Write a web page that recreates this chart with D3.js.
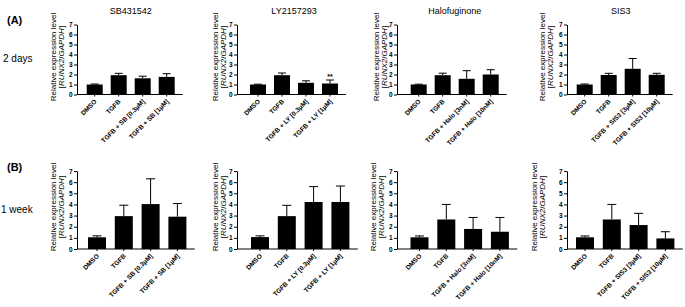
<!DOCTYPE html>
<html><head><meta charset="utf-8">
<script src="https://cdn.jsdelivr.net/npm/d3@7"></script>
<style>
body{margin:0;background:#fff;}
svg{display:block;font-family:Arial,"Liberation Sans",sans-serif;}
</style></head>
<body><svg id="c" width="685" height="307"></svg>
<script>
// ---- data ----
const drugs = ["SB431542", "LY2157293", "Halofuginone", "SIS3"];
const catSB = ["DMSO", "TGFB", "TGFB + SB [0.3µM]", "TGFB + SB [1µM]"];
const catLY = ["DMSO", "TGFB", "TGFB + LY [0.3µM]", "TGFB + LY [1µM]"];
const catHalo = ["DMSO", "TGFB", "TGFB + Halo [3nM]", "TGFB + Halo [10nM]"];
const catSIS3 = ["DMSO", "TGFB", "TGFB + SIS3 [3µM]", "TGFB + SIS3 [10µM]"];
const categories = [catSB, catLY, catHalo, catSIS3];
// 2 days
const mean2d = [[1.0, 1.93, 1.62, 1.76], [1.0, 1.93, 1.17, 1.1], [1.0, 1.93, 1.57, 2.0], [1.0, 1.95, 2.57, 1.97]];
const err2d  = [[0.05, 0.19, 0.21, 0.32], [0.03, 0.22, 0.2, 0.35], [0.03, 0.2, 0.81, 0.48], [0.05, 0.17, 1.03, 0.15]];
// 1 week
const mean1w = [[1.05, 2.95, 4.03, 2.9], [1.07, 2.95, 4.22, 4.22], [1.05, 2.65, 1.8, 1.55], [1.05, 2.65, 2.15, 0.95]];
const err1w  = [[0.13, 0.98, 2.27, 1.18], [0.11, 0.97, 1.38, 1.43], [0.12, 1.35, 1.03, 1.28], [0.12, 1.35, 1.05, 0.6]];
const yTicks = [0, 1, 2, 3, 4, 5, 6, 7];
const signif = [{row: 0, panel: 1, bar: 3, text: "**"}];
const rowLabels = ["(A)", "(B)"];
const rowTimes = ["2 days", "1 week"];

// ---- layout ----
const svg = d3.select("#c");
const FONT = "Arial, 'Liberation Sans', sans-serif";
const panelLeft = [77, 237, 397, 567];
const rows = [
  {y0: 94.5, yTop: 24.5, step: 24, barW: 16, first: [17.7, 21, 21.7, 17.7], lab: [-24, -22, -21, -25.5], mean: mean2d, err: err2d, labY: 57},
  {y0: 249, yTop: 171, step: 26.8, barW: 18, first: [20, 23, 22.5, 18], lab: [-24, -22.5, -24.5, -33.5], mean: mean1w, err: err1w, labY: 207}
];

rows.forEach((R, ri) => {
  const y = d3.scaleLinear().domain([0, 7]).range([R.y0, R.yTop]);
  drugs.forEach((drug, pi) => {
    const x0 = panelLeft[pi];
    const start = x0 + R.first[pi] - R.step / 2;
    const pin = 1 - R.barW / R.step;
    const x = d3.scaleBand().domain(categories[pi]).range([start, start + 4 * R.step])
      .paddingInner(pin).paddingOuter(pin / 2);
    const g = svg.append("g");
    const data = categories[pi].map((c, i) => ({c, v: R.mean[pi][i], e: R.err[pi][i]}));

    // bars
    g.selectAll("rect.bar").data(data).join("rect")
      .attr("x", d => x(d.c)).attr("width", x.bandwidth())
      .attr("y", d => y(d.v)).attr("height", d => y(0) - y(d.v))
      .attr("fill", "#000");
    // error bars (upper)
    const cx = d => x(d.c) + x.bandwidth() / 2;
    g.selectAll("line.err").data(data).join("line")
      .attr("x1", cx).attr("x2", cx)
      .attr("y1", d => y(d.v)).attr("y2", d => y(d.v + d.e))
      .attr("stroke", "#000").attr("stroke-width", 1);
    g.selectAll("line.cap").data(data).join("line")
      .attr("x1", d => cx(d) - x.bandwidth() / 4).attr("x2", d => cx(d) + x.bandwidth() / 4)
      .attr("y1", d => y(d.v + d.e)).attr("y2", d => y(d.v + d.e))
      .attr("stroke", "#000").attr("stroke-width", 1);

    // y axis
    const ya = g.append("g").attr("transform", `translate(${x0},0)`)
      .call(d3.axisLeft(y).tickValues(yTicks).tickFormat(d3.format("d")).tickSize(3).tickSizeOuter(0).tickPadding(1.5));
    ya.select(".domain").attr("stroke", "#000");
    ya.selectAll(".tick line").attr("stroke", "#000");
    ya.selectAll(".tick text").attr("font-size", 6.5).attr("font-weight", "bold").attr("font-family", FONT).attr("fill", "#000");

    // x axis
    const xEnd = start + 4 * R.step + 4;
    g.append("line").attr("x1", x0).attr("x2", xEnd).attr("y1", y(0)).attr("y2", y(0))
      .attr("stroke", "#000").attr("stroke-width", 1);
    g.selectAll("line.xt").data(data).join("line")
      .attr("x1", cx).attr("x2", cx).attr("y1", y(0)).attr("y2", y(0) + 2)
      .attr("stroke", "#000");
    g.selectAll("text.xl").data(data).join("text")
      .attr("transform", d => `translate(${cx(d) + 2.5},${y(0) + 7.5}) rotate(-45)`)
      .attr("text-anchor", "end").attr("font-size", 6.5).attr("font-weight", "bold")
      .attr("font-family", FONT).text(d => d.c);

    // y label
    const lx = x0 + R.lab[pi];
    g.append("text").attr("transform", `translate(${lx + 3},${R.labY}) rotate(-90)`)
      .attr("text-anchor", "middle").attr("font-size", 8).attr("font-family", FONT)
      .text("Relative expression level");
    const t2 = g.append("text").attr("transform", `translate(${lx + 11},${R.labY}) rotate(-90)`)
      .attr("text-anchor", "middle").attr("font-size", 8).attr("font-family", FONT);
    t2.append("tspan").text("[");
    t2.append("tspan").attr("font-style", "italic").text("RUNX2");
    t2.append("tspan").text("/");
    t2.append("tspan").attr("font-style", "italic").text("GAPDH");
    t2.append("tspan").text("]");

    // title
    if (ri === 0) {
      const mid = (x(categories[pi][0]) + x(categories[pi][3]) + x.bandwidth()) / 2;
      g.append("text").attr("x", mid).attr("y", 13.5).attr("text-anchor", "middle")
        .attr("font-size", 9).attr("font-family", FONT).text(drug);
    }

    // significance
    signif.filter(s => s.row === ri && s.panel === pi).forEach(s => {
      const d = data[s.bar];
      g.append("text").attr("x", cx(d)).attr("y", y(d.v + d.e) - 1.5).attr("text-anchor", "middle")
        .attr("font-size", 7).attr("font-weight", "bold").attr("font-family", FONT).text(s.text);
    });
  });
});

// row labels
svg.append("text").attr("x", 7).attr("y", 24).attr("font-size", 11).attr("font-weight", "bold")
  .attr("font-family", FONT).text(rowLabels[0]);
svg.append("text").attr("x", 7).attr("y", 171).attr("font-size", 11).attr("font-weight", "bold")
  .attr("font-family", FONT).text(rowLabels[1]);
svg.append("text").attr("x", 3).attr("y", 62).attr("font-size", 10).attr("font-family", FONT).text(rowTimes[0]);
svg.append("text").attr("x", 1).attr("y", 212.5).attr("font-size", 10).attr("font-family", FONT).text(rowTimes[1]);
</script></body></html>
